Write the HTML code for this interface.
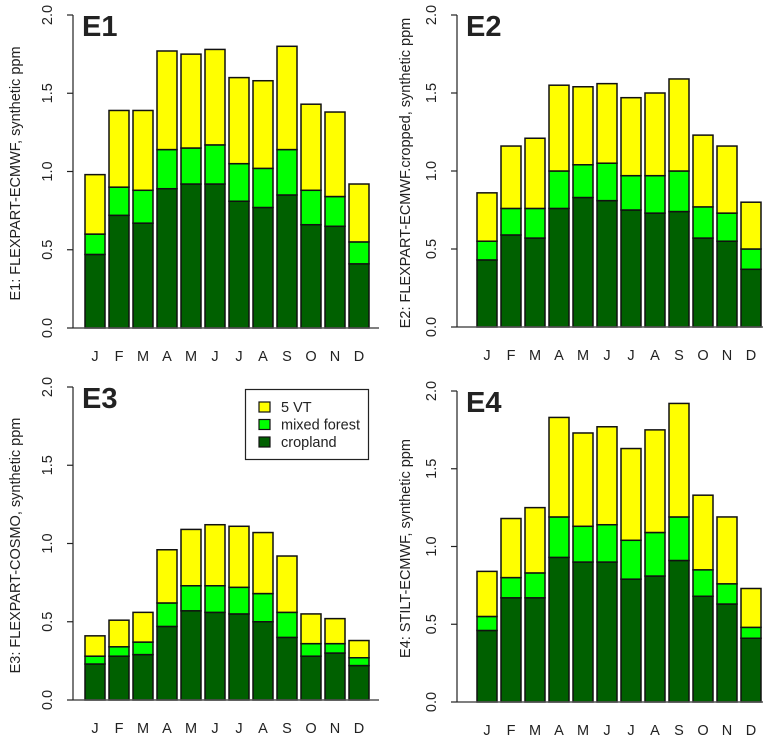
<!DOCTYPE html>
<html><head><meta charset="utf-8"><style>
body{margin:0;background:#fff}
svg text{font-family:"Liberation Sans",sans-serif;fill:#222}
</style></head><body>
<svg id="c" width="778" height="741" xmlns="http://www.w3.org/2000/svg"></svg>
<script>
const months = ["J","F","M","A","M","J","J","A","S","O","N","D"];
const yTicks = [0,0.5,1,1.5,2];
const yTickLabels = ["0.0","0.5","1.0","1.5","2.0"];
const e1Crop = [0.47,0.72,0.67,0.89,0.92,0.92,0.81,0.77,0.85,0.66,0.65,0.41];
const e1Forest = [0.13,0.18,0.21,0.25,0.23,0.25,0.24,0.25,0.29,0.22,0.19,0.14];
const e1Vt = [0.38,0.49,0.51,0.63,0.60,0.61,0.55,0.56,0.66,0.55,0.54,0.37];
const e2Crop = [0.43,0.59,0.57,0.76,0.83,0.81,0.75,0.73,0.74,0.57,0.55,0.37];
const e2Forest = [0.12,0.17,0.19,0.24,0.21,0.24,0.22,0.24,0.26,0.20,0.18,0.13];
const e2Vt = [0.31,0.40,0.45,0.55,0.50,0.51,0.50,0.53,0.59,0.46,0.43,0.30];
const e3Crop = [0.23,0.28,0.29,0.47,0.57,0.56,0.55,0.50,0.40,0.28,0.30,0.22];
const e3Forest = [0.05,0.06,0.08,0.15,0.16,0.17,0.17,0.18,0.16,0.08,0.06,0.05];
const e3Vt = [0.13,0.17,0.19,0.34,0.36,0.39,0.39,0.39,0.36,0.19,0.16,0.11];
const e4Crop = [0.46,0.67,0.67,0.93,0.90,0.90,0.79,0.81,0.91,0.68,0.63,0.41];
const e4Forest = [0.09,0.13,0.16,0.26,0.23,0.24,0.25,0.28,0.28,0.17,0.13,0.07];
const e4Vt = [0.29,0.38,0.42,0.64,0.60,0.63,0.59,0.66,0.73,0.48,0.43,0.25];
const seriesNames = ["cropland","mixed forest","5 VT"];
const seriesColors = ["#006000","#00ff00","#ffff00"];

const NS="http://www.w3.org/2000/svg";
const svg=document.getElementById("c");
function mk(tag,attrs,parent,text){const e=document.createElementNS(NS,tag);for(const k in attrs)e.setAttribute(k,attrs[k]);if(text!==undefined)e.textContent=text;(parent||svg).appendChild(e);return e;}

const panels=[
 {id:"e1",label:"E1",title:"E1: FLEXPART-ECMWF, synthetic ppm",ax:73,top:15,y0:328,bx:85,tx:15,data:[e1Crop,e1Forest,e1Vt]},
 {id:"e2",label:"E2",title:"E2: FLEXPART-ECMWF.cropped, synthetic ppm",ax:457,top:15,y0:327,bx:477,tx:405,data:[e2Crop,e2Forest,e2Vt]},
 {id:"e3",label:"E3",title:"E3: FLEXPART-COSMO, synthetic ppm",ax:73,top:387,y0:700,bx:85,tx:15,data:[e3Crop,e3Forest,e3Vt]},
 {id:"e4",label:"E4",title:"E4: STILT-ECMWF, synthetic ppm",ax:457,top:391,y0:702,bx:477,tx:405,data:[e4Crop,e4Forest,e4Vt]}
];
panels.forEach(p=>{
 const g=mk("g",{});
 
 
 const y=v=>p.y0-(p.y0-p.top)*v/2;
 const x=i=>p.bx+i*24;
 months.forEach((m,i)=>{
  let cum=0;
  p.data.forEach((arr,s)=>{
   const v=arr[i];
   const r=mk("rect",{x:x(i),y:y(cum+v),width:20,height:y(cum)-y(cum+v),fill:seriesColors[s],stroke:"#111","stroke-width":1.5},g);
   
   
   cum+=v;
  });
  const t=mk("text",{x:x(i)+10,y:p.y0+33,"text-anchor":"middle","font-size":14.5},g,m);
  
  
 });
 const bl=mk("line",{x1:p.ax,x2:p.ax+306,y1:p.y0,y2:p.y0,stroke:"#555","stroke-width":1.5},g);
 
 
 const ya=mk("line",{x1:p.ax,x2:p.ax,y1:p.y0,y2:p.top,stroke:"#222","stroke-width":1.2},g);
 
 
 yTicks.forEach((v,k)=>{
  mk("line",{x1:p.ax-6,x2:p.ax,y1:y(v),y2:y(v),stroke:"#222","stroke-width":1.2},g);
  const t=mk("text",{transform:`translate(${p.ax-21},${y(v)}) rotate(-90)`,"text-anchor":"middle","font-size":14.5},g,yTickLabels[k]);
  
  
 });
 const cy=(p.top+p.y0)/2+2;
 const tt=mk("text",{transform:`translate(${p.tx+5},${cy}) rotate(-90)`,"text-anchor":"middle","font-size":14.5},g,p.title);
 
 
 const pl=mk("text",{x:p.ax+9,y:p.top+21,"font-size":29,"font-weight":"bold",fill:"#333"},g,p.label);
 
 
});
const lg=mk("g",{});


mk("rect",{x:245.5,y:389.5,width:123,height:70,fill:"#fff",stroke:"#222","stroke-width":1.2},lg);
[2,1,0].forEach((s,k)=>{
 const e=mk("g",{},lg);
 
 
 mk("rect",{x:259,y:402+k*17.5,width:11,height:10,fill:seriesColors[s],stroke:"#111","stroke-width":1.2},e);
 mk("text",{x:281,y:412+k*17.5,"font-size":14.5},e,seriesNames[s]);
});
</script>
</body></html>
